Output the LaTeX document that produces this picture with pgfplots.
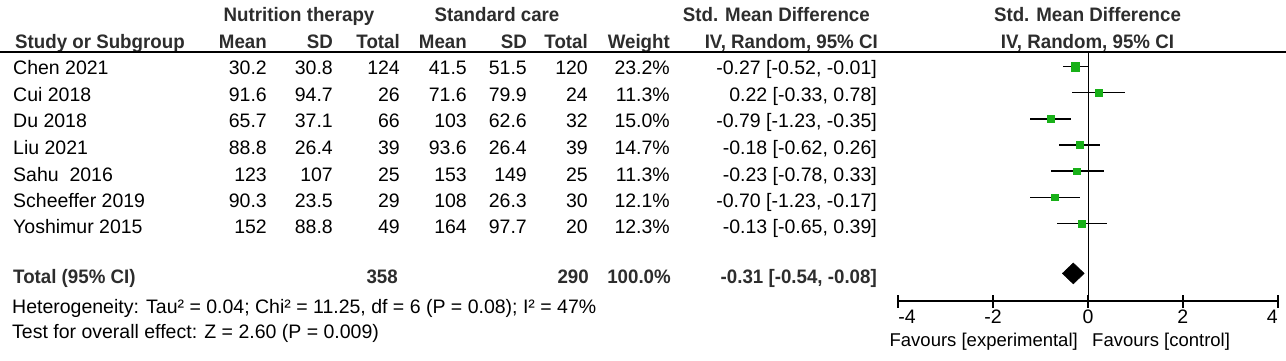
\documentclass[border=0pt]{standalone}
\usepackage{fontspec}
\setmainfont{Liberation Sans}[BoldFeatures={FakeStretch=0.96}]
\usepackage{pgfplots}
\pgfplotsset{compat=1.18}
\usepackage{pgfplotstable}
\definecolor{sqgreen}{RGB}{24,176,24}
\definecolor{hdr}{RGB}{45,45,45}

% y = row position (negative row index), est/lo/hi = SMD and 95% CI, ms = half side of square (pt)
\pgfplotstableread{
y      est    lo     hi    ms
-1    -0.27  -0.52  -0.01  4.4
-2     0.22  -0.33   0.78  3.4
-3    -0.79  -1.23  -0.35  3.6
-4    -0.18  -0.62   0.26  3.6
-5    -0.23  -0.78   0.33  3.4
-6    -0.70  -1.23  -0.17  3.4
-7    -0.13  -0.65   0.39  3.4
}\studies

\newcommand{\tl}[3]{\node[anchor=base west, inner sep=0pt] at (#1,{360-#2}) {#3};}
\newcommand{\tr}[3]{\node[anchor=base east, inner sep=0pt] at (#1,{360-#2}) {#3};}
\newcommand{\tc}[3]{\node[anchor=base, inner sep=0pt] at (#1,{360-#2}) {#3};}
\newcommand{\hd}[1]{\textcolor{hdr}{\bfseries #1}}
\newcommand{\datarow}[9]{%
  \tl{13}{#1}{#2}\tr{267}{#1}{#3}\tr{333}{#1}{#4}\tr{400}{#1}{#5}%
  \tr{467}{#1}{#6}\tr{527}{#1}{#7}\tr{588}{#1}{#8}\tr{670}{#1}{#9}}

\begin{document}
\fontsize{19.5}{23}\selectfont
\begin{tikzpicture}[x=1pt,y=1pt]
\useasboundingbox (0,0) rectangle (1286,360);

% header
\tc{299}{21.7}{\hd{Nutrition therapy}}
\tc{497}{21.7}{\hd{Standard care}}
\tr{870}{21.7}{\hd{Std. Mean Difference}}
\tc{1087.5}{21.7}{\hd{Std. Mean Difference}}
\tl{15}{48.3}{\hd{Study or Subgroup}}
\tr{267}{48.3}{\hd{Mean}}
\tr{333}{48.3}{\hd{SD}}
\tr{400}{48.3}{\hd{Total}}
\tr{467}{48.3}{\hd{Mean}}
\tr{527}{48.3}{\hd{SD}}
\tr{588}{48.3}{\hd{Total}}
\tr{670}{48.3}{\hd{Weight}}
\tr{878}{48.3}{\hd{IV, Random, 95\% CI}}
\tc{1087.5}{48.3}{\hd{IV, Random, 95\% CI}}
\draw[line width=2pt] (0,{360-52}) -- (1286,{360-52});

% rows
\datarow{74.5}{Chen 2021}{30.2}{30.8}{124}{41.5}{51.5}{120}{23.2\%}
\tr{877}{74.5}{-0.27 [-0.52, -0.01]}
\datarow{101}{Cui 2018}{91.6}{94.7}{26}{71.6}{79.9}{24}{11.3\%}
\tr{877}{101}{0.22 [-0.33, 0.78]}
\datarow{127.5}{Du 2018}{65.7}{37.1}{66}{103}{62.6}{32}{15.0\%}
\tr{877}{127.5}{-0.79 [-1.23, -0.35]}
\datarow{154.5}{Liu 2021}{88.8}{26.4}{39}{93.6}{26.4}{39}{14.7\%}
\tr{877}{154.5}{-0.18 [-0.62, 0.26]}
\datarow{181}{Sahu\ \ 2016}{123}{107}{25}{153}{149}{25}{11.3\%}
\tr{877}{181}{-0.23 [-0.78, 0.33]}
\datarow{207.3}{Scheeffer 2019}{90.3}{23.5}{29}{108}{26.3}{30}{12.1\%}
\tr{877}{207.3}{-0.70 [-1.23, -0.17]}
\datarow{233.3}{Yoshimur 2015}{152}{88.8}{49}{164}{97.7}{20}{12.3\%}
\tr{877}{233.3}{-0.13 [-0.65, 0.39]}

% total
\tl{13}{283}{\hd{Total (95\% CI)}}
\tr{398}{283}{\hd{358}}
\tr{589}{283}{\hd{290}}
\tr{671}{283}{\hd{100.0\%}}
\tr{877}{283}{\hd{-0.31 [-0.54, -0.08]}}
\tl{12}{313}{Heterogeneity: Tau² = 0.04; Chi² = 11.25, df = 6 (P = 0.08); I² = 47\%}
\tl{12}{338}{Test for overall effect: Z = 2.60 (P = 0.009)}

% favours
{\fontsize{18.5}{22}\selectfont
\tr{1078}{346}{Favours [experimental]}
\tl{1092}{346}{Favours [control]}}

\begin{axis}[
  at={(898.3pt,59pt)}, anchor=south west,
  scale only axis, width=379.4pt, height=249pt,
  xmin=-4, xmax=4, ymin=-9.977, ymax=-0.437,
  axis x line=bottom, axis y line=none,
  axis line style={-, line width=2pt, black},
  xtick={-4,-2,0,2,4},
  xticklabels={\makebox[0pt][l]{-4},-2,0,2,\makebox[0pt][r]{4}},
  minor xtick={},
  tick align=center, major tick length=13pt,
  every tick/.style={black, line width=2pt},
  xticklabel style={anchor=base, inner sep=0pt, yshift=-15.5pt, font=\fontsize{19.5}{23}\selectfont},
  clip=false,
]
\addplot[black, line width=1pt] coordinates {(0,-0.437) (0,-9.977)};
\addplot[only marks, mark=none,
  error bars/.cd, x dir=both, x explicit, error mark=none,
  error bar style={draw=black, line width=1.3pt, solid}]
  table[x=est, y=y,
        x error plus expr=\thisrow{hi}-\thisrow{est},
        x error minus expr=\thisrow{est}-\thisrow{lo}] {\studies};
\addplot[only marks, mark=square*, draw=sqgreen, fill=sqgreen,
  scatter, scatter/use mapped color={draw=sqgreen, fill=sqgreen},
  visualization depends on={\thisrow{ms} \as \msz},
  scatter/@pre marker code/.append style={/tikz/mark size=\msz}]
  table[x=est, y=y] {\studies};
\addplot[fill=black, draw=black, line width=0.5pt]
  coordinates {(-0.54,-8.92) (-0.31,-8.52) (-0.08,-8.92) (-0.31,-9.32) (-0.54,-8.92)};
\end{axis}
\end{tikzpicture}
\end{document}
